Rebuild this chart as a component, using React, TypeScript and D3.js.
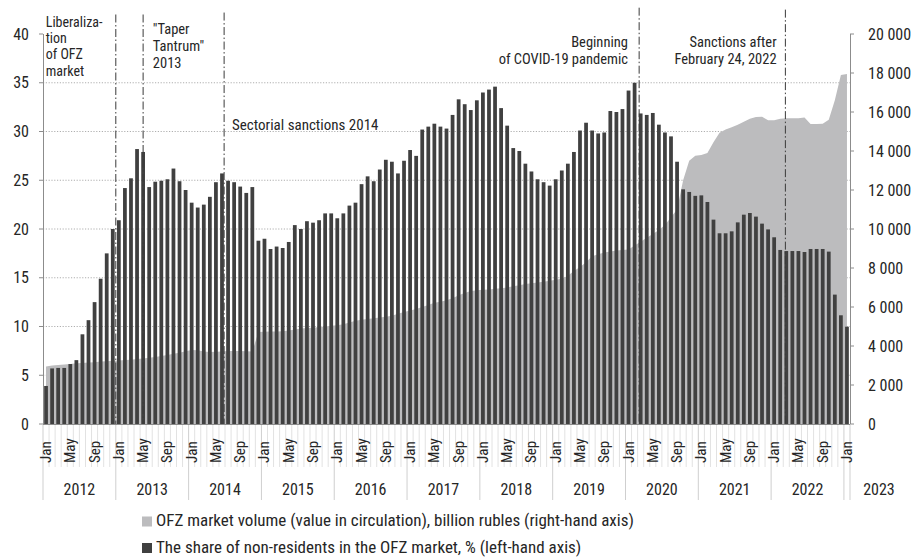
import React from "react";
import * as d3 from "d3";

const years = [2012, 2013, 2014, 2015, 2016, 2017, 2018, 2019, 2020, 2021, 2022, 2023];
const monthNames = ["Jan", "Feb", "Mar", "Apr", "May", "Jun", "Jul", "Aug", "Sep", "Oct", "Nov", "Dec"];
const labeledMonths = ["Jan", "May", "Sep"];

// share of non-residents in the OFZ market, % (left axis), Jan 2012 .. Jan 2023
const shareNonResidents = [
  3.9, 5.7, 5.75, 5.75, 6.15, 6.55, 9.2, 10.65, 12.5, 14.9, 17.5, 20.0,
  20.9, 24.2, 25.2, 28.2, 27.9, 24.3, 24.85, 24.95, 25.1, 26.2, 24.9, 24.0,
  22.7, 22.2, 22.5, 23.3, 24.8, 25.7, 24.95, 24.8, 24.35, 23.7, 24.3, 18.8,
  19.0, 17.95, 18.2, 18.05, 18.67, 20.4, 20.0, 20.8, 20.65, 20.9, 21.6, 21.6,
  21.1, 21.6, 22.4, 22.7, 24.6, 25.4, 24.9, 26.1, 27.1, 26.9, 25.7, 27.0,
  28.1, 27.5, 30.2, 30.5, 30.8, 30.5, 30.3, 31.7, 33.3, 32.8, 32.2, 33.2,
  34.0, 34.3, 34.6, 32.4, 30.6, 28.3, 28.0, 26.7, 25.9, 25.1, 24.8, 24.45,
  25.1, 26.0, 26.7, 27.9, 30.1, 30.9, 30.1, 29.8, 29.9, 32.1, 32.0, 32.3,
  34.2, 35.0, 31.85, 31.7, 31.9, 30.7, 29.9, 29.5, 26.9, 24.07, 23.8, 23.4,
  23.45, 22.77, 20.96, 19.56, 19.56, 19.76, 20.68, 21.47, 21.64, 21.27, 20.55, 19.96,
  19.15, 17.85, 17.74, 17.74, 17.74, 17.64, 17.95, 17.95, 17.95, 17.68, 13.27, 11.15,
  9.98,
];

// OFZ market volume (value in circulation), billion rubles (right axis)
const ofzVolume = [
  2950, 3000, 3030, 3050, 3080, 3110, 3130, 3150, 3170, 3200, 3220, 3240,
  3260, 3280, 3300, 3330, 3360, 3400, 3440, 3490, 3540, 3600, 3660, 3730,
  3790, 3780, 3720, 3690, 3700, 3720, 3740, 3740, 3740, 3730, 3720, 4720,
  4730, 4740, 4750, 4760, 4800, 4850, 4900, 4920, 4940, 4970, 5000, 5040,
  5070, 5120, 5200, 5300, 5340, 5380, 5420, 5460, 5500, 5550, 5650, 5750,
  5820, 5900, 6000, 6100, 6220, 6270, 6350, 6450, 6600, 6720, 6820, 6860,
  6880, 6900, 6930, 6960, 7000, 7060, 7120, 7180, 7220, 7260, 7300, 7350,
  7400, 7450, 7600, 7850, 8050, 8300, 8600, 8700, 8800, 8850, 8900, 8920,
  8950, 9150, 9350, 9550, 9750, 9950, 10200, 10600, 11000, 12500, 13500, 13760,
  13800, 13900, 14450, 14940, 15100, 15220, 15350, 15500, 15650, 15740, 15760, 15580,
  15580, 15650, 15680, 15680, 15680, 15720, 15380, 15380, 15400, 15600, 16600, 17900,
  17950,
];

const leftTicks = [0, 5, 10, 15, 20, 25, 30, 35, 40];
const rightTicks = [0, 2000, 4000, 6000, 8000, 10000, 12000, 14000, 16000, 18000, 20000];

// event markers: position in month-index units
const events = [
  { at: 12.0, top: 42, textAt: 0.45, anchor: "start", base: 27, gap: 16.2, size: 14, lines: ["Liberaliza-", "tion", "of OFZ", "market"] },
  { at: 16.5, top: 42, textAt: 18.1, anchor: "start", base: 33.5, gap: 17.3, size: 14.5, lines: ["\"Taper", "Tantrum\"", "2013"] },
  { at: 29.85, top: 42.2, textAt: 31.15, anchor: "start", base: 130, gap: 17, size: 15, lines: ["Sectorial sanctions 2014"] },
  { at: 98.25, top: 42.7, textAt: 96.4, anchor: "end", base: 47, gap: 17, size: 14.5, lines: ["Beginning", "of COVID-19 pandemic"] },
  { at: 122.35, top: 42.5, textAt: 120.9, anchor: "end", base: 47, gap: 16.8, size: 14.5, lines: ["Sanctions after", "February 24, 2022"] },
];

const legendItems = [
  { label: "OFZ market volume (value in circulation), billion rubles (right-hand axis)", color: "#bcbcbe" },
  { label: "The share of non-residents in the OFZ market, % (left-hand axis)", color: "#404040" },
];

const FONT = "'Liberation Sans Narrow', 'Roboto Condensed', 'DejaVu Sans Condensed', sans-serif";
const W = 918;
const H = 557;

export default function App() {
  const categories = years
    .flatMap((y) => monthNames.map((m) => ({ year: y, month: m })))
    .slice(0, shareNonResidents.length);
  const n = categories.length;
  const left = 43;
  const right = 850;
  const top = 34;
  const bottom = 424;

  const x = d3
    .scaleBand<number>()
    .domain(d3.range(n))
    .range([left, right])
    .paddingInner(0.38)
    .paddingOuter(0.19);
  const xi = d3.scaleLinear().domain([0, n]).range([left, right]);
  const yL = d3.scaleLinear().domain([0, 40]).range([bottom, top]);
  const yR = d3.scaleLinear().domain([0, 20000]).range([bottom, top]);

  const area = d3
    .area<number>()
    .x((_, i) => xi(i + 0.5))
    .y0(bottom)
    .y1((d) => yR(d))
    .curve(d3.curveLinear);

  const fmtR = (v: number) => d3.format(",")(v).replace(/,/g, " ");
  const textColor = "#262626";

  return (
    <svg
      width={W}
      height={H}
      style={{ position: "absolute", left: 0, top: 0, background: "#fff" }}
      fontFamily={FONT}
    >
      {/* grid */}
      {leftTicks
        .filter((t) => t > 0 && t < 40)
        .map((t) => (
          <line
            key={"g" + t}
            x1={left}
            x2={right}
            y1={yL(t)}
            y2={yL(t)}
            stroke="#9a9a9a"
            strokeWidth={0.8}
            strokeDasharray="1.2,1.6"
          />
        ))}

      {/* area */}
      <path d={area(ofzVolume) || ""} fill="#bcbcbe" />

      {/* bars */}
      {shareNonResidents.map((v, i) => (
        <rect key={"b" + i} x={x(i)} y={yL(v)} width={x.bandwidth()} height={bottom - yL(v)} fill="#404040" />
      ))}

      {/* x axis line */}
      <line x1={left} x2={right} y1={bottom + 0.5} y2={bottom + 0.5} stroke="#8c8c8c" strokeWidth={1} />

      {/* month separators */}
      {d3.range(n + 1).map((i) => {
        const isYear = i % 12 === 0 || i === n;
        return (
          <line
            key={"ms" + i}
            x1={xi(i)}
            x2={xi(i)}
            y1={bottom + 1}
            y2={isYear ? 500 : 467}
            stroke={isYear ? "#cfcfcf" : "#e2e2e2"}
            strokeWidth={1}
          />
        );
      })}

      {/* month labels */}
      {categories.map((c, i) =>
        labeledMonths.includes(c.month) ? (
          <text
            key={"ml" + i}
            transform={`translate(${xi(i + 0.5) + 5},463) rotate(-90)`}
            fontSize={15}
            fill={textColor}
            textAnchor="start"
          >
            {c.month}
          </text>
        ) : null
      )}

      {/* year labels */}
      {years.map((y) => {
        const idx = categories.map((c, i) => (c.year === y ? i : -1)).filter((i) => i >= 0);
        const count = idx.length;
        const cx = count > 1 ? xi(idx[0] + count / 2) : xi(idx[0] + 0.5) + 32;
        return (
          <text key={"y" + y} x={cx} y={495} fontSize={16} fill={textColor} textAnchor="middle">
            {y}
          </text>
        );
      })}

      {/* left axis */}
      <line x1={left + 0.5} x2={left + 0.5} y1={top} y2={bottom} stroke="#8c8c8c" />
      {leftTicks.map((t) => (
        <g key={"lt" + t}>
          <line x1={left - 4} x2={left} y1={yL(t)} y2={yL(t)} stroke="#8c8c8c" />
          <text x={29} y={yL(t) + 5.5} fontSize={16} fill={textColor} textAnchor="end">
            {t}
          </text>
        </g>
      ))}

      {/* right axis */}
      <line x1={right + 0.5} x2={right + 0.5} y1={top} y2={bottom} stroke="#8c8c8c" />
      {rightTicks.map((t) => (
        <g key={"rt" + t}>
          <line x1={right} x2={right + 4} y1={yR(t)} y2={yR(t)} stroke="#8c8c8c" />
          <text x={868} y={yR(t) + 5.5} fontSize={16} fill={textColor} textAnchor="start">
            {fmtR(t)}
          </text>
        </g>
      ))}

      {/* event lines and labels */}
      {events.map((e, k) => (
        <g key={"e" + k}>
          <line
            x1={xi(e.at)}
            x2={xi(e.at)}
            y1={yL(e.top)}
            y2={bottom}
            stroke="#3a3a3a"
            strokeWidth={1}
            strokeDasharray="8,2.5,1.5,2.5"
          />
          {e.lines.map((ln, j) => (
            <text
              key={j}
              x={xi(e.textAt)}
              y={e.base + j * e.gap}
              fontSize={e.size}
              fill={textColor}
              textAnchor={e.anchor as any}
            >
              {ln}
            </text>
          ))}
        </g>
      ))}

      {/* legend */}
      {legendItems.map((it, k) => (
        <g key={"lg" + k}>
          <rect x={142} y={516.5 + k * 26.5} width={10} height={10} fill={it.color} />
          <text x={156} y={526 + k * 26.5} fontSize={17} fill={textColor}>
            {it.label}
          </text>
        </g>
      ))}
    </svg>
  );
}
